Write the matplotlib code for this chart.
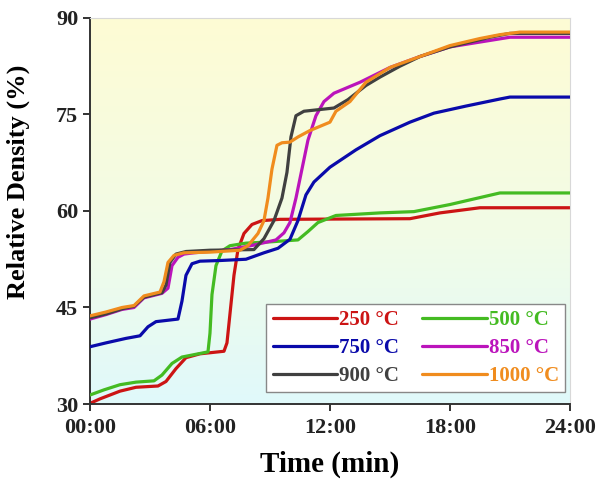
import matplotlib
matplotlib.use('Agg')
import matplotlib.pyplot as plt
from matplotlib.colors import LinearSegmentedColormap
import numpy as np

# time (min) and relative density (%)
t_250 = [0, 0.5, 1.5, 2.3, 3.4, 3.8, 4.3, 4.8, 5.5, 6.7, 6.85, 7.0, 7.2, 7.4, 7.7, 8.1, 8.6, 9.5, 16.0, 17.5, 19.5, 24]
d_250 = [30.1, 30.8, 32.0, 32.6, 32.8, 33.5, 35.5, 37.2, 37.8, 38.2, 39.5, 44, 50, 54, 56.5, 57.9, 58.5, 58.7, 58.8, 59.7, 60.5, 60.5]

t_500 = [0, 0.7, 1.5, 2.3, 3.2, 3.6, 4.1, 4.6, 5.9, 6.0, 6.1, 6.3, 6.6, 7.0, 7.8, 9.0, 10.4, 10.9, 11.4, 12.3, 14.5, 16.2, 18.0, 20.5, 24]
d_500 = [31.4, 32.2, 33.0, 33.4, 33.6, 34.5, 36.3, 37.3, 38.1, 41, 47, 51.5, 53.8, 54.6, 55.0, 55.2, 55.5, 56.8, 58.2, 59.3, 59.7, 59.9, 61.0, 62.8, 62.8]

t_750 = [0, 0.8, 1.8, 2.5, 2.9, 3.3, 4.4, 4.6, 4.8, 5.1, 5.5, 6.5, 7.8, 8.7, 9.4, 10.0, 10.4, 10.8, 11.2, 12.0, 13.3, 14.5, 16.0, 17.2, 18.8, 20.5, 21.0, 24]
d_750 = [38.9, 39.5, 40.2, 40.6, 42.0, 42.8, 43.2, 46, 50, 51.8, 52.2, 52.3, 52.5, 53.5, 54.2, 55.6, 58.5, 62.5, 64.5, 66.8, 69.5, 71.7, 73.8, 75.2, 76.3, 77.4, 77.7, 77.7]

t_850 = [0, 0.8, 1.6, 2.2, 2.7, 3.6, 3.9, 4.1, 4.4, 4.7, 5.2, 7.0, 8.2, 9.3, 9.7, 10.0, 10.3, 10.6, 10.9, 11.3, 11.7, 12.2, 13.5, 15.0, 16.5, 18.0, 20.0, 21.0, 24]
d_850 = [43.2, 43.9, 44.7, 45.0, 46.5, 47.2, 48.0, 51.5, 52.8, 53.3, 53.5, 54.0, 54.7, 55.5, 56.6, 58.2, 62.0, 66.5, 71.0, 74.8, 77.0, 78.3, 80.0, 82.3, 84.0, 85.5, 86.5, 87.0, 87.0]

t_900 = [0, 0.8, 1.6, 2.2, 2.7, 3.6, 3.8, 4.0, 4.3, 4.8, 6.0, 8.2, 8.7, 9.2, 9.6, 9.85, 10.05, 10.3, 10.7, 12.2, 12.9, 13.8, 14.5, 15.5, 16.5, 18.0, 20.0, 21.0, 24]
d_900 = [43.4, 44.0, 44.8, 45.2, 46.6, 47.3, 48.5, 52.0, 53.3, 53.7, 53.9, 54.0, 55.7, 58.5, 62.0, 66.0, 71.5, 74.8, 75.5, 76.0, 77.3, 79.5, 80.8, 82.5, 84.0, 85.5, 87.0, 87.6, 87.6]

t_1000 = [0, 0.8, 1.6, 2.2, 2.7, 3.5, 3.7, 3.9, 4.2, 4.7, 6.0, 7.5, 7.9, 8.4, 8.7, 8.9, 9.1, 9.35, 9.6, 10.0, 10.4, 11.0, 12.0, 12.3, 13.0, 13.8, 15.0, 16.5, 18.0, 19.5, 20.5, 21.5, 24]
d_1000 = [43.7, 44.3, 45.0, 45.3, 46.8, 47.4, 49.0, 52.0, 53.1, 53.5, 53.6, 53.9, 54.6, 56.5, 58.5, 62.0, 66.5, 70.2, 70.6, 70.7, 71.5, 72.5, 73.8, 75.5, 77.0, 80.0, 82.3, 84.0, 85.7, 86.8, 87.4, 87.8, 87.8]

labels = ['250 °C', '500 °C', '750 °C', '850 °C', '900 °C', '1000 °C']
colors = ['#CC1414', '#44BB22', '#0A0AAA', '#BB14BB', '#404040', '#F08C1E']
x_ticks = [0, 6, 12, 18, 24]
x_ticklabels = ['00:00', '06:00', '12:00', '18:00', '24:00']
y_ticks = [30, 45, 60, 75, 90]

series = [(t_250, d_250), (t_500, d_500), (t_750, d_750),
          (t_850, d_850), (t_900, d_900), (t_1000, d_1000)]

plt.rcParams['font.family'] = ['Liberation Serif', 'DejaVu Serif']
plt.rcParams['font.weight'] = 'bold'

fig = plt.figure(figsize=(5.98, 4.82), dpi=100)
ax = fig.add_axes([0.1505, 0.1618, 0.8025, 0.801])

# background gradient, pale yellow on top to pale cyan at the bottom
cmap = LinearSegmentedColormap.from_list(
    'bg', [(0.0, '#E0F9FB'), (0.45, '#F2FCE6'), (1.0, '#FEFBD4')])
grad = np.linspace(0, 1, 256).reshape(-1, 1)
ax.imshow(grad, aspect='auto', cmap=cmap, origin='lower',
          extent=[0, 24, 30, 90], zorder=0)

lines = []
for i, (t, d) in enumerate(series):
    ln, = ax.plot(t, d, color=colors[i], lw=2.3, label=labels[i],
                  solid_joinstyle='round', solid_capstyle='round', zorder=2 + i)
    lines.append(ln)

ax.set_xlim(0, 24)
ax.set_ylim(30, 90)
ax.set_xticks(x_ticks)
ax.set_xticklabels(x_ticklabels)
ax.set_yticks(y_ticks)
ax.tick_params(direction='out', length=5, width=1.3, labelsize=16, colors='#222222')
ax.tick_params(axis='x', pad=5)

for s in ['left', 'bottom']:
    ax.spines[s].set_color('#333333')
    ax.spines[s].set_linewidth(1.4)
for s in ['top', 'right']:
    ax.spines[s].set_color('#D8D8D8')
    ax.spines[s].set_linewidth(0.8)

ax.set_xlabel('Time (min)', fontsize=21, fontweight='bold', labelpad=9)
ax.set_ylabel('Relative Density (%)', fontsize=19, fontweight='bold', labelpad=6)
ax.yaxis.set_label_coords(-0.125, 0.575)

# legend fills row by row in the reference
idx = [0, 2, 4, 1, 3, 5]
leg = ax.legend([lines[i] for i in idx], [labels[i] for i in idx], ncol=2,
                loc='lower right', bbox_to_anchor=(0.99, 0.031), borderaxespad=0,
                fontsize=15, handlelength=3.1, handletextpad=0.1,
                columnspacing=1.1, labelspacing=0.38, borderpad=0.3,
                fancybox=False, framealpha=1, edgecolor='#888888')
leg.get_frame().set_linewidth(1.0)
for txt, i in zip(leg.get_texts(), idx):
    txt.set_color(colors[i])

fig.savefig('out.png', dpi=100)
